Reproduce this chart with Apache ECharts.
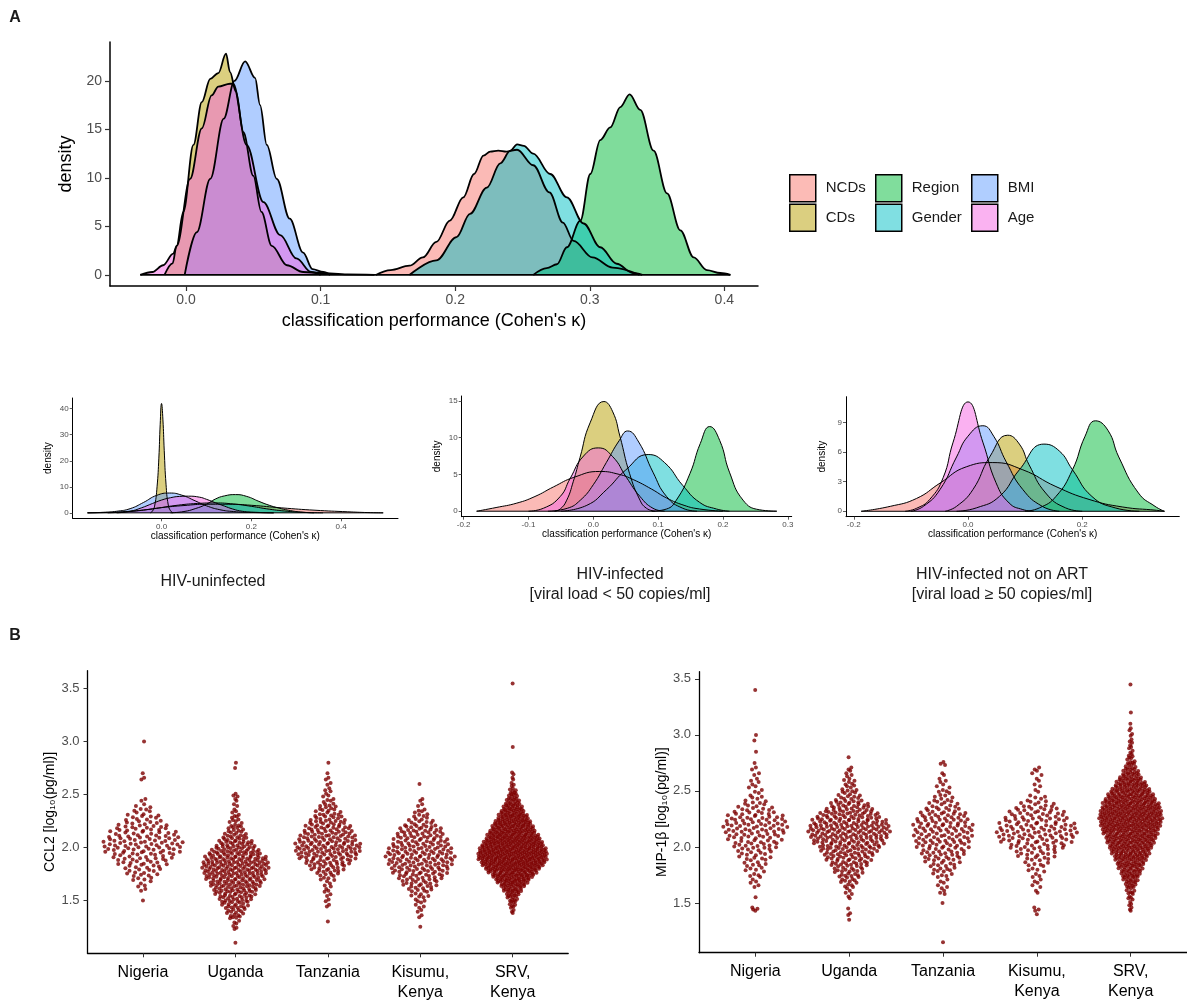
<!DOCTYPE html>
<html>
<head>
<meta charset="utf-8">
<script src="https://cdn.jsdelivr.net/npm/echarts@6/dist/echarts.min.js"></script>
<style>
  html, body { margin: 0; background: #fff; }
  #chart { width: 1187px; height: 1005px; }
</style>
</head>
<body>
<div id="chart"></div>
<script>
// ---- panel A: density curves, [kappa, density] ----
const groups = ['NCDs', 'CDs', 'Region', 'Gender', 'BMI', 'Age'];
const hues = ['#F8766D', '#B79F00', '#00BA38', '#00BFC4', '#619CFF', '#F564E3'];

// all participants (big plot)
const allNCDs = [[0.141,0],[0.152,0.5],[0.166,0.95],[0.176,1.8],[0.186,3.4],[0.196,5.6],[0.206,8.0],[0.214,10.4],[0.221,12.3],[0.226,12.7],[0.232,12.8],[0.238,12.7],[0.246,12.9],[0.258,11.3],[0.27,8.5],[0.28,5.4],[0.288,3.5],[0.302,1.8],[0.317,0.75],[0.337,0]];
const allCDs = [[-0.016,0],[-0.01,1.2],[-0.007,3.0],[-0.002,6.5],[0.0055,13.4],[0.0117,17.8],[0.018,20.2],[0.024,20.8],[0.0297,22.8],[0.0327,20.9],[0.037,18.9],[0.0426,14.7],[0.05,10.2],[0.056,6.5],[0.0637,3.0],[0.075,1.0],[0.087,0.3],[0.1,0.2],[0.12,0.05],[0.14,0]];
const allRegion = [[0.258,0],[0.268,0.7],[0.2756,1.1],[0.283,2.85],[0.293,5.6],[0.3004,10.4],[0.3078,13.9],[0.3152,15.2],[0.3227,17.3],[0.3296,18.6],[0.3375,17.0],[0.3474,12.8],[0.3574,8.4],[0.3673,4.6],[0.3772,1.8],[0.387,0.5],[0.397,0.2],[0.4045,0]];
const allGender = [[0.166,0],[0.186,1.5],[0.201,3.9],[0.211,6.3],[0.2235,9.0],[0.2335,11.5],[0.241,12.8],[0.246,13.45],[0.251,13.3],[0.258,12.5],[0.2706,10.4],[0.283,8.0],[0.2954,5.3],[0.3078,2.85],[0.32,1.15],[0.332,0.2],[0.339,0]];
const allBMI = [[-0.001,0],[0.008,4.4],[0.018,9.9],[0.028,16.1],[0.036,20.0],[0.0439,22.0],[0.0513,20.3],[0.055,17.5],[0.06,13.4],[0.0674,9.9],[0.077,5.8],[0.087,2.3],[0.094,0.6],[0.102,0.3],[0.107,0]];
const allAge = [[-0.034,0],[-0.025,0.3],[-0.017,1.0],[-0.0095,2.2],[-0.0069,3.0],[0.003,9.9],[0.0117,15.1],[0.019,18.5],[0.024,19.4],[0.0327,19.7],[0.035,19.7],[0.045,13.4],[0.0575,7.5],[0.07,4.1],[0.082,1.7],[0.093,0.3],[0.1,0]];

// HIV-uninfected
const unNCDs = [[-0.165,0],[-0.12,0.15],[-0.08,0.5],[-0.04,1.1],[0,2.0],[0.05,2.8],[0.1,3.3],[0.15,3.3],[0.2,2.9],[0.268,1.9],[0.342,1.0],[0.415,0.4],[0.46,0.1],[0.494,0]];
const unCDs = [[-0.025,0],[-0.02,0.7],[-0.015,3],[-0.01,10],[-0.006,21],[-0.003,34],[0,42],[0.003,36],[0.006,24],[0.01,11],[0.015,3],[0.02,0.8],[0.025,0]];
const unRegion = [[0.02,0],[0.05,0.5],[0.075,1.6],[0.1,3.3],[0.12,5.3],[0.14,6.5],[0.165,7.0],[0.19,6.3],[0.217,4.4],[0.24,2.9],[0.26,1.9],[0.283,1.0],[0.31,0.3],[0.34,0]];
const unGender = [[-0.12,0],[-0.07,0.5],[-0.02,1.5],[0.03,2.8],[0.08,3.6],[0.12,3.8],[0.16,3.4],[0.2,2.5],[0.24,1.4],[0.28,0.6],[0.32,0.15],[0.36,0]];
const unBMI = [[-0.165,0],[-0.13,0.2],[-0.1,0.6],[-0.07,1.6],[-0.04,4.0],[-0.011,6.7],[0.018,7.6],[0.045,6.8],[0.075,4.6],[0.1,2.7],[0.13,1.2],[0.16,0.5],[0.2,0.15],[0.25,0]];
const unAge = [[-0.1,0],[-0.07,0.6],[-0.045,1.9],[-0.02,3.6],[0,4.9],[0.02,5.8],[0.04,6.3],[0.06,6.4],[0.085,6.0],[0.1,5.2],[0.121,3.8],[0.14,2.6],[0.158,1.5],[0.18,0.6],[0.21,0.2],[0.25,0]];

// HIV-infected, viral load < 50
const supNCDs = [[-0.18,0],[-0.15,0.5],[-0.118,1.1],[-0.09,2.0],[-0.0615,3.3],[-0.03,4.6],[0.01,5.4],[0.04,5.0],[0.0615,4.3],[0.09,3.0],[0.113,1.8],[0.14,0.8],[0.164,0.3],[0.2,0]];
const supCDs = [[-0.06,0],[-0.051,0.3],[-0.041,1.5],[-0.031,4.0],[-0.0205,7.3],[-0.005,12.0],[0.0164,14.9],[0.03,13.5],[0.041,10.2],[0.056,5.1],[0.072,1.5],[0.082,0.4],[0.095,0]];
const supRegion = [[0.09,0],[0.113,0.3],[0.128,1.5],[0.149,5.1],[0.165,9.2],[0.1795,11.5],[0.195,9.6],[0.21,5.3],[0.231,1.5],[0.256,0.2],[0.283,0]];
const supGender = [[-0.05,0],[-0.01,0.8],[0.02,2.9],[0.05,5.6],[0.0846,7.7],[0.11,6.6],[0.138,3.5],[0.164,1.2],[0.19,0.3],[0.21,0]];
const supBMI = [[-0.07,0],[-0.04,0.4],[-0.02,1.5],[0,3.6],[0.02,6.6],[0.04,9.6],[0.053,10.9],[0.07,9.4],[0.092,5.3],[0.113,2.0],[0.138,0.4],[0.16,0]];
const supAge = [[-0.1,0],[-0.077,0.4],[-0.051,2.0],[-0.036,4.4],[-0.015,7.5],[0.0077,8.6],[0.03,7.4],[0.051,4.6],[0.072,2.0],[0.092,0.4],[0.11,0]];

// HIV-infected not on ART, viral load >= 50
const virNCDs = [[-0.187,0],[-0.136,0.5],[-0.09,1.3],[-0.049,2.85],[-0.003,4.5],[0.0435,4.93],[0.096,4.2],[0.154,2.5],[0.212,1.2],[0.27,0.44],[0.33,0.1],[0.344,0]];
const virCDs = [[-0.04,0],[-0.02,0.5],[0.0087,2.2],[0.038,5.5],[0.0696,7.7],[0.09,6.8],[0.107,4.7],[0.136,1.85],[0.171,0.34],[0.2,0]];
const virRegion = [[0.1,0],[0.125,0.34],[0.154,1.5],[0.183,4.2],[0.205,7.6],[0.223,9.16],[0.245,8.2],[0.264,5.5],[0.2985,1.85],[0.3275,0.5],[0.344,0]];
const virGender = [[-0.02,0],[0.0145,0.34],[0.055,1.5],[0.09,4.2],[0.133,6.8],[0.16,6.1],[0.183,4.2],[0.217,1.5],[0.258,0.34],[0.3,0]];
const virBMI = [[-0.1,0],[-0.078,0.5],[-0.049,2.2],[-0.02,5.5],[0,7.6],[0.026,8.66],[0.045,7.6],[0.067,5.0],[0.096,2.2],[0.13,0.5],[0.16,0]];
const virAge = [[-0.11,0],[-0.09,0.3],[-0.067,1.2],[-0.0435,3.4],[-0.026,7.0],[0,11.07],[0.026,7.0],[0.049,2.9],[0.072,0.84],[0.096,0.17],[0.115,0]];

// ---- panel B: counts per 0.05 log10 bin, bins start at the given value ----
const sites = ['Nigeria', 'Uganda', 'Tanzania', 'Kisumu,\nKenya', 'SRV,\nKenya'];
const BIN = 0.05;
const ccl2Start = [1.50, 1.10, 1.30, 1.25, 1.40];
const ccl2Counts = [
  [1,0,2,3,5,7,9,11,13,16,18,18,16,14,12,9,7,5,3,2,0,0,0,2,1,0,0,0,0,0,1],
  [1,0,0,3,3,7,9,12,15,18,21,24,27,29,31,32,29,25,20,16,12,9,7,5,4,3,2,2,3,0,0,0,0,1,1],
  [1,0,0,2,2,2,3,3,5,8,12,16,20,23,24,22,20,18,16,13,11,8,6,4,3,3,2,2,1,0,1],
  [1,0,2,2,3,4,6,8,11,14,17,19,21,22,22,20,18,16,15,13,8,5,4,2,2,0,0,1],
  [3,5,7,11,16,23,31,39,48,56,61,61,57,51,46,40,36,31,25,20,15,11,8,4,3,2,2,0,0,0,0,1,0,0,0,0,0,0,0,0,0,0,0,1]
];
const mipStart = [1.45, 1.35, 1.15, 1.40, 1.45];
const mipCounts = [
  [4,0,1,0,2,3,4,5,6,7,9,11,12,14,16,16,15,12,9,6,4,3,3,3,2,2,1,0,1,0,1,1,0,0,0,0,0,0,0,1],
  [1,2,1,0,2,3,5,7,10,12,16,18,21,25,28,31,33,31,28,23,18,13,9,7,5,4,3,3,0,1],
  [1,0,0,0,0,0,0,1,0,3,3,3,5,7,9,11,13,14,16,16,17,16,15,13,10,8,5,4,3,3,2,0,3],
  [1,3,0,0,2,2,3,3,4,6,8,10,14,17,20,20,18,16,14,12,7,4,2,2,2,2,3],
  [3,3,4,6,8,11,15,18,22,26,30,34,38,41,44,48,50,49,47,43,38,32,26,20,14,10,7,5,3,3,3,2,2,1,0,1,0,0,0,0,1]
];
// widest half-spread of each swarm, in category units
const ccl2Spread = [0.45, 0.37, 0.37, 0.38, 0.38];
const mipSpread = [0.36, 0.45, 0.33, 0.45, 0.34];

const FONT = '"Liberation Sans", Arial, sans-serif';

function mixWhite(hex, a) {
  const n = parseInt(hex.slice(1), 16);
  const c = [n >> 16, (n >> 8) & 255, n & 255].map(v => Math.round(v * a + 255 * (1 - a)));
  return `rgb(${c[0]},${c[1]},${c[2]})`;
}

// van der Corput / Halton low-discrepancy sequence for quasirandom placement
function vdc(n, base) {
  let v = 0, d = 1;
  while (n > 0) { d *= base; v += (n % base) / d; n = Math.floor(n / base); }
  return v;
}

function swarm(start, counts, pos, half) {
  const sm = counts.map((c, i) => 0.25 * (counts[i - 1] || 0) + 0.5 * c + 0.25 * (counts[i + 1] || 0));
  const dmax = Math.max(...sm);
  const ys = [];
  counts.forEach((n, i) => {
    const c = start + i * BIN;
    for (let k = 0; k < n; k++) {
      ys.push(n === 1 ? c : c - BIN / 2 + vdc(k + 1, 3) * BIN);
    }
  });
  ys.sort((a, b) => a - b);
  return ys.map((y, r) => {
    const f = (y - start) / BIN;
    const i0 = Math.max(0, Math.min(counts.length - 1, Math.floor(f)));
    const i1 = Math.min(counts.length - 1, i0 + 1);
    const t = Math.min(1, Math.max(0, f - i0));
    const d = sm[i0] * (1 - t) + sm[i1] * t;
    return [pos + (vdc(r + 1, 2) - 0.5) * 2 * half * d / dmax, y];
  });
}

function valueAxis(gridIndex, min, max, ticks, fmt, o) {
  return {
    type: 'value', gridIndex, min, max,
    axisLine: { show: true, onZero: false, lineStyle: { color: '#000', width: o.lw } },
    axisTick: { show: true, customValues: ticks, length: o.tick, lineStyle: { color: '#333', width: o.lw * 0.8 } },
    axisLabel: { customValues: ticks, formatter: fmt, fontSize: o.font, color: o.color || '#4D4D4D',
                 margin: o.margin, fontFamily: FONT, lineHeight: o.lh },
    splitLine: { show: false },
    name: o.name, nameLocation: 'middle', nameGap: o.nameGap,
    nameTextStyle: { fontSize: o.nameFont, color: '#000', fontFamily: FONT }
  };
}

const dec1 = v => v.toFixed(1);
const int0 = v => String(Math.round(v));
const kappa = "classification performance (Cohen's κ)";

const densityPanels = [
  { curves: [allNCDs, allCDs, allRegion, allGender, allBMI, allAge], lw: 1.8,
    grid: { left: 110, top: 42, width: 648, height: 244 },
    x: [-0.0565, 0.425, [0, 0.1, 0.2, 0.3, 0.4]], y: [-1.14, 24, [0, 5, 10, 15, 20]],
    big: true },
  { curves: [unNCDs, unCDs, unRegion, unGender, unBMI, unAge], lw: 1,
    grid: { left: 72.7, top: 398, width: 325.3, height: 120.3 },
    x: [-0.198, 0.527, [-0.2, 0, 0.2, 0.4]], y: [-2.1, 44.1, [0, 10, 20, 30, 40]] },
  { curves: [supNCDs, supCDs, supRegion, supGender, supBMI, supAge], lw: 1,
    grid: { left: 461.7, top: 396, width: 330, height: 120.7 },
    x: [-0.203, 0.306, [-0.2, -0.1, 0, 0.1, 0.2, 0.3]], y: [-0.745, 15.65, [0, 5, 10, 15]] },
  { curves: [virNCDs, virCDs, virRegion, virGender, virBMI, virAge], lw: 1,
    grid: { left: 846, top: 396.7, width: 333.3, height: 120 },
    x: [-0.2136, 0.370, [-0.2, 0, 0.2]], y: [-0.55, 11.6, [0, 3, 6, 9]] }
];

const grids = [], xAxes = [], yAxes = [], series = [];

densityPanels.forEach((p, gi) => {
  grids.push(p.grid);
  const big = !!p.big;
  xAxes.push(valueAxis(gi, p.x[0], p.x[1], p.x[2], dec1, big
    ? { lw: 1.5, tick: 5, font: 14, margin: 7, name: kappa, nameGap: 26, nameFont: 18 }
    : { lw: 1, tick: 3, font: 8, margin: 4, name: kappa, nameGap: 13, nameFont: 10 }));
  yAxes.push(valueAxis(gi, p.y[0], p.y[1], p.y[2], int0, big
    ? { lw: 1.5, tick: 5, font: 14, margin: 8, name: 'density', nameGap: 32, nameFont: 18 }
    : { lw: 1, tick: 3, font: 8, margin: 4, name: 'density', nameGap: 19, nameFont: 10 }));
  p.curves.forEach((curve, k) => {
    series.push({
      name: groups[k], type: 'line', xAxisIndex: gi, yAxisIndex: gi,
      data: curve, smooth: big ? 0.35 : 0.5, smoothMonotone: big ? 'x' : null, symbol: 'none',
      lineStyle: { color: '#000', width: p.lw },
      itemStyle: { color: hues[k] },
      areaStyle: { color: hues[k], opacity: 0.5 },
      silent: true
    });
  });
  const xs = p.curves.flat().map(d => d[0]);
  series.push({
    type: 'line', xAxisIndex: gi, yAxisIndex: gi, symbol: 'none', silent: true,
    data: [[Math.min(...xs), 0], [Math.max(...xs), 0]],
    lineStyle: { color: '#000', width: p.lw }
  });
});

const swarmPanels = [
  { start: ccl2Start, counts: ccl2Counts, spread: ccl2Spread, name: 'CCL2 [log₁₀(pg/ml)]',
    grid: { left: 87.5, top: 670.7, width: 480.7, height: 282.6 }, y: [1.0, 3.67] },
  { start: mipStart, counts: mipCounts, spread: mipSpread, name: 'MIP-1β [log₁₀(pg/ml)]',
    grid: { left: 699, top: 671.7, width: 488, height: 281 }, y: [1.056, 3.564] }
];

swarmPanels.forEach((p, j) => {
  const gi = densityPanels.length + j;
  grids.push(p.grid);
  xAxes.push(valueAxis(gi, 0.4, 5.6, [1, 2, 3, 4, 5], v => sites[Math.round(v) - 1],
    { lw: 1.3, tick: 4, font: 16, color: '#000', margin: 9, lh: 20 }));
  yAxes.push(valueAxis(gi, p.y[0], p.y[1], [1.5, 2.0, 2.5, 3.0, 3.5], dec1,
    { lw: 1.3, tick: 4, font: 13, margin: 8, name: p.name, nameGap: 30, nameFont: 14 }));
  p.counts.forEach((c, s) => {
    series.push({
      type: 'scatter', xAxisIndex: gi, yAxisIndex: gi, silent: true,
      data: swarm(p.start[s], c, s + 1, p.spread[s]),
      symbolSize: 4, itemStyle: { color: '#7D0000' }
    });
  });
});

const legendCols = [['NCDs', 'CDs'], ['Region', 'Gender'], ['BMI', 'Age']];
const legendLeft = [789, 875, 971];
const legends = legendCols.map((names, c) => ({
  left: legendLeft[c], top: 174, padding: 0, orient: 'vertical', selectedMode: false,
  itemWidth: 26, itemHeight: 27, itemGap: 1, icon: 'rect',
  textStyle: { fontSize: 15, color: '#1A1A1A', fontFamily: FONT, padding: [0, 0, 0, 5] },
  data: names.map(n => ({
    name: n,
    itemStyle: { color: mixWhite(hues[groups.indexOf(n)], 0.5), borderColor: '#000', borderWidth: 1.5 },
    lineStyle: { width: 0 }
  }))
}));

const textEl = (x, y, text, size, weight) => ({
  type: 'text', x, y, silent: true,
  style: { text, fill: '#1A1A1A', font: `${weight || 'normal'} ${size}px ${FONT}`,
           align: 'center', verticalAlign: 'middle', lineHeight: 20 }
});

const chart = echarts.init(document.getElementById('chart'), null, { renderer: 'canvas' });
chart.setOption({
  animation: false,
  backgroundColor: '#fff',
  grid: grids,
  xAxis: xAxes,
  yAxis: yAxes,
  legend: legends,
  series: series,
  graphic: [
    textEl(15, 18, 'A', 16, 'bold'),
    textEl(15, 636, 'B', 16, 'bold'),
    textEl(213, 582, 'HIV-uninfected', 16),
    textEl(620, 585, 'HIV-infected\n[viral load < 50 copies/ml]', 16),
    textEl(1002, 585, 'HIV-infected not on ART\n[viral load ≥ 50 copies/ml]', 16)
  ]
});
</script>
</body>
</html>
